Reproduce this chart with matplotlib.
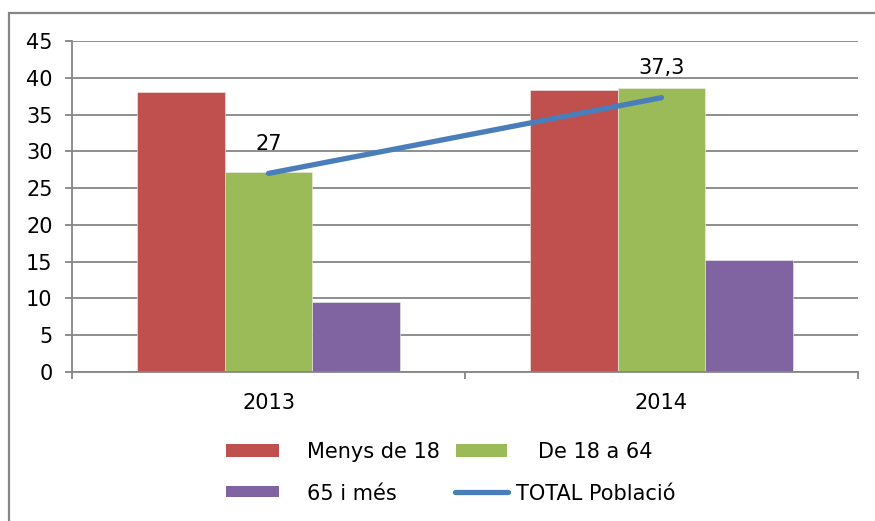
import matplotlib
matplotlib.use("Agg")
import matplotlib.pyplot as plt
from matplotlib.patches import Rectangle
from matplotlib.lines import Line2D
import numpy as np

categories = ["2013", "2014"]
menys18 = [38.0, 38.3]
de18a64 = [27.2, 38.6]
mes65 = [9.5, 15.2]
total = [27.0, 37.3]
total_labels = ["27", "37,3"]
series_names = ["Menys de 18", "De 18 a 64", "65 i més", "TOTAL Població"]
colors = ["#c0504d", "#9bbb59", "#8064a2", "#4a7ebb"]
yticks = [0, 5, 10, 15, 20, 25, 30, 35, 40, 45]

W, H = 875, 521
fig = plt.figure(figsize=(W / 100, H / 100), dpi=100)
plt.rcParams['font.family'] = ['DejaVu Sans']

grid_c = "#868686"
FS = 15

# outer frame
fig.patches.append(Rectangle((9 / W, -0.1), 1.2, 1 - 13 / H + 0.1, transform=fig.transFigure,
                             fill=False, edgecolor=grid_c, linewidth=1.6, zorder=0))

ax = fig.add_axes([72 / W, 1 - 372 / H, (858 - 72) / W, (372 - 41) / H])
x = np.arange(len(categories))
w = 0.2234
ax.bar(x - w, menys18, w, color=colors[0], edgecolor="#f0f0f0", linewidth=0.4, zorder=2)
ax.bar(x, de18a64, w, color=colors[1], edgecolor="#f0f0f0", linewidth=0.4, zorder=2)
ax.bar(x + w, mes65, w, color=colors[2], edgecolor="#f0f0f0", linewidth=0.4, zorder=2)
ax.plot(x, total, color=colors[3], linewidth=3.8, solid_capstyle="round", zorder=3)
for xi, yi, lab in zip(x, total, total_labels):
    ax.annotate(lab, (xi, yi), xytext=(0, 21), textcoords="offset points",
                ha="center", va="center", fontsize=FS, color="black")

ax.set_xlim(-0.5, 1.5)
ax.set_ylim(0, 45)
ax.set_yticks(yticks)
ax.set_yticklabels([str(t) for t in yticks], fontsize=FS)
ax.yaxis.grid(True, color=grid_c, linewidth=1.3, zorder=0)
ax.set_axisbelow(True)
ax.set_xticks([-0.5, 0.5, 1.5])
ax.set_xticklabels([])
ax.set_xticks(x, minor=True)
ax.set_xticklabels(categories, minor=True, fontsize=FS)
ax.tick_params(axis="x", which="minor", length=0, pad=15)
ax.tick_params(axis="x", which="major", length=5, width=1.3, color=grid_c)
ax.tick_params(axis="y", length=5, width=1.3, color=grid_c, pad=9)
for s in ["top", "right"]:
    ax.spines[s].set_visible(False)
for s in ["left", "bottom"]:
    ax.spines[s].set_color(grid_c)
    ax.spines[s].set_linewidth(1.3)

# legend (manual, figure pixel coords)
def fx(px):
    return px / W

def fy(py):
    return 1 - py / H

fig.patches.append(Rectangle((fx(226), fy(457)), fx(53), 13 / H, transform=fig.transFigure,
                             facecolor=colors[0], edgecolor="none"))
fig.patches.append(Rectangle((fx(456), fy(457)), fx(51), 13 / H, transform=fig.transFigure,
                             facecolor=colors[1], edgecolor="none"))
fig.patches.append(Rectangle((fx(226), fy(497)), fx(53), 11 / H, transform=fig.transFigure,
                             facecolor=colors[2], edgecolor="none"))
fig.lines.append(Line2D([fx(455), fx(508)], [fy(492), fy(492)], transform=fig.transFigure,
                        color=colors[3], linewidth=3.8, solid_capstyle="round"))
fig.text(fx(307), fy(452), series_names[0], fontsize=FS, va="center", ha="left")
fig.text(fx(538), fy(452), series_names[1], fontsize=FS, va="center", ha="left")
fig.text(fx(307), fy(494), series_names[2], fontsize=FS, va="center", ha="left")
fig.text(fx(516), fy(494), series_names[3], fontsize=FS, va="center", ha="left")

fig.savefig("out.png", dpi=100, facecolor="white")
